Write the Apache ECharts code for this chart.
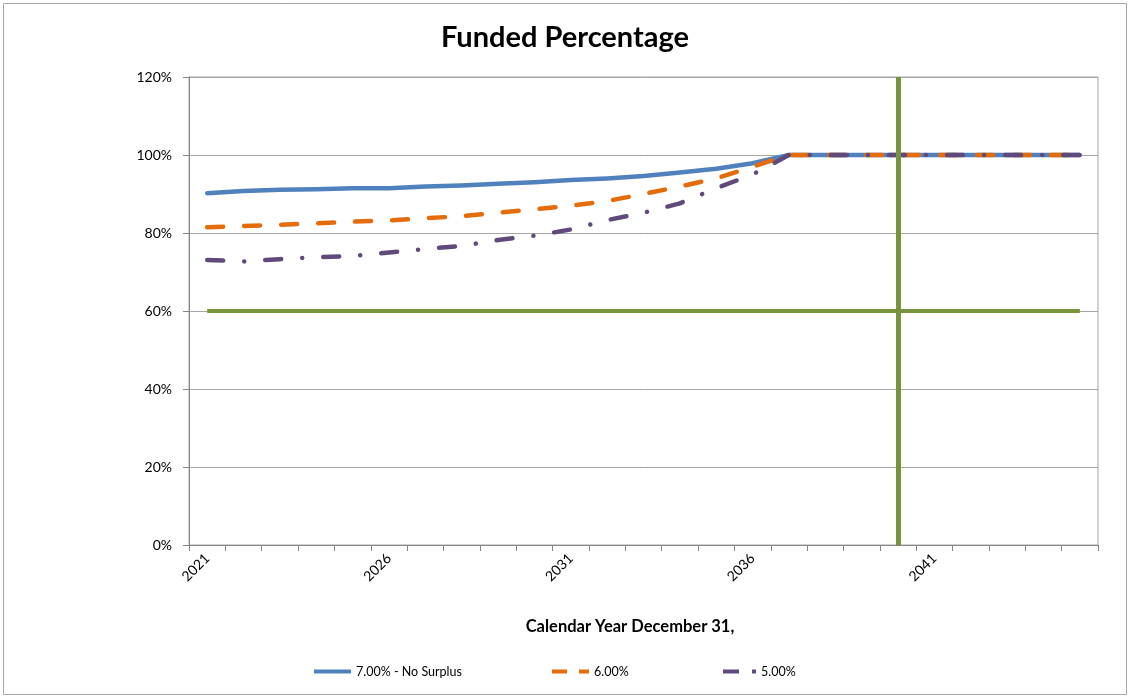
<!DOCTYPE html>
<html>
<head>
<meta charset="utf-8">
<script src="https://cdn.jsdelivr.net/npm/echarts@6/dist/echarts.min.js"></script>
<style>
  html, body { margin: 0; padding: 0; background: #fff; }
  #chart { width: 1130px; height: 698px; }
</style>
</head>
<body>
<div id="chart"></div>
<script>
const years = ['2021','2022','2023','2024','2025','2026','2027','2028','2029','2030','2031','2032','2033','2034','2035','2036','2037','2038','2039','2040','2041','2042','2043','2044','2045'];
const rate700NoSurplus = [90.2, 90.8, 91.1, 91.2, 91.5, 91.5, 91.9, 92.2, 92.6, 93.0, 93.6, 94.0, 94.6, 95.5, 96.5, 97.9, 100, 100, 100, 100, 100, 100, 100, 100, 100];
const rate600 = [81.5, 81.8, 82.1, 82.5, 82.9, 83.2, 83.8, 84.3, 85.2, 86.1, 87.0, 88.2, 90.0, 91.9, 94.0, 97.0, 100, 100, 100, 100, 100, 100, 100, 100, 100];
const rate500 = [73.1, 72.7, 73.3, 73.8, 74.1, 75.0, 75.9, 76.7, 78.2, 79.3, 80.9, 83.3, 85.2, 87.6, 91.5, 95.0, 100, 100, 100, 100, 100, 100, 100, 100, 100];
const threshold60 = [60, 60, 60, 60, 60, 60, 60, 60, 60, 60, 60, 60, 60, 60, 60, 60, 60, 60, 60, 60, 60, 60, 60, 60, 60];
const markerYear = '2040';
const yTicks = { min: 0, max: 120, interval: 20 };
const seriesNames = ['7.00% - No Surplus', '6.00%', '5.00%'];

const FONT = 'Lato, "Open Sans", sans-serif';
const BLUE = '#4F81BD', ORANGE = '#E46C0A', PURPLE = '#604A7B', GREEN = '#77933C';
const chart = echarts.init(document.getElementById('chart'), null, { renderer: 'canvas' });

const legendText = { fontFamily: FONT, fontSize: 12.5, color: '#000' };
const legendBase = { top: 665, padding: 0, itemWidth: 37, itemHeight: 4, textStyle: legendText };

const option = {
  backgroundColor: '#fff',
  animation: false,
  title: {
    text: 'Funded Percentage',
    left: 'center',
    top: 18,
    padding: [5, 0, 5, 6],
    textStyle: { fontFamily: FONT, fontSize: 29, fontWeight: 'bold', color: '#000' }
  },
  graphic: [{
    type: 'rect',
    shape: { x: 3.5, y: 3.5, width: 1123, height: 691 },
    style: { fill: 'none', stroke: '#A6A6A6', lineWidth: 1 },
    silent: true
  }],
  legend: [
    Object.assign({}, legendBase, {
      left: 314,
      data: [{ name: seriesNames[0], icon: 'path://M0,0h37v4h-37z', itemStyle: { color: BLUE } }]
    }),
    Object.assign({}, legendBase, {
      left: 552,
      data: [{ name: seriesNames[1], icon: 'path://M0,0h15v4h-15z M27,0h10v4h-10z', itemStyle: { color: ORANGE } }]
    }),
    Object.assign({}, legendBase, {
      itemWidth: 33,
      left: 723,
      data: [{ name: seriesNames[2], icon: 'path://M0,0h16v4h-16z M29,0h4v4h-4z', itemStyle: { color: PURPLE } }]
    })
  ],
  grid: {
    left: 189, right: 32, top: 77, bottom: 153,
    show: true, borderColor: '#A6A6A6', borderWidth: 1, backgroundColor: 'transparent'
  },
  xAxis: {
    type: 'category',
    data: years,
    boundaryGap: true,
    name: 'Calendar Year December 31,',
    nameLocation: 'middle',
    nameGap: 73,
    nameTextStyle: { fontFamily: FONT, fontSize: 16.5, fontWeight: 'bold', color: '#000', padding: [0, 27, 0, 0] },
    axisLine: { lineStyle: { color: '#868686', width: 1 } },
    axisTick: { show: true, interval: 0, length: 6, lineStyle: { color: '#868686' } },
    axisLabel: { interval: 4, rotate: 45, margin: 11, fontFamily: FONT, fontSize: 14, color: '#000' },
    splitLine: { show: false }
  },
  yAxis: {
    type: 'value',
    min: yTicks.min, max: yTicks.max, interval: yTicks.interval,
    axisLine: { show: true, lineStyle: { color: '#868686', width: 1 } },
    axisTick: { show: true, length: 6, lineStyle: { color: '#868686' } },
    axisLabel: { formatter: '{value}%', margin: 17, fontFamily: FONT, fontSize: 14, color: '#000' },
    splitLine: { show: true, lineStyle: { color: '#A6A6A6', width: 1 } }
  },
  series: [
    {
      name: 'Threshold',
      type: 'line',
      data: threshold60,
      symbol: 'none',
      silent: true,
      lineStyle: { color: GREEN, width: 4 },
      itemStyle: { color: GREEN },
      markLine: {
        silent: true,
        symbol: ['none', 'none'],
        label: { show: false },
        lineStyle: { color: GREEN, width: 5, type: 'solid' },
        data: [{ xAxis: markerYear }]
      },
      z: 1
    },
    {
      name: seriesNames[0],
      type: 'line',
      data: rate700NoSurplus,
      symbol: 'none',
      lineStyle: { color: BLUE, width: 4.5, cap: 'round', join: 'round' },
      itemStyle: { color: BLUE },
      z: 2
    },
    {
      name: seriesNames[1],
      type: 'line',
      data: rate600,
      symbol: 'none',
      lineStyle: { color: ORANGE, width: 4.5, type: [16, 21], cap: 'round', join: 'round' },
      itemStyle: { color: ORANGE },
      z: 3
    },
    {
      name: seriesNames[2],
      type: 'line',
      data: rate500,
      symbol: 'none',
      lineStyle: { color: PURPLE, width: 4.5, type: [16, 21, 0.1, 21], cap: 'round', join: 'round' },
      itemStyle: { color: PURPLE },
      z: 4
    }
  ]
};
chart.setOption(option);
</script>
</body>
</html>
